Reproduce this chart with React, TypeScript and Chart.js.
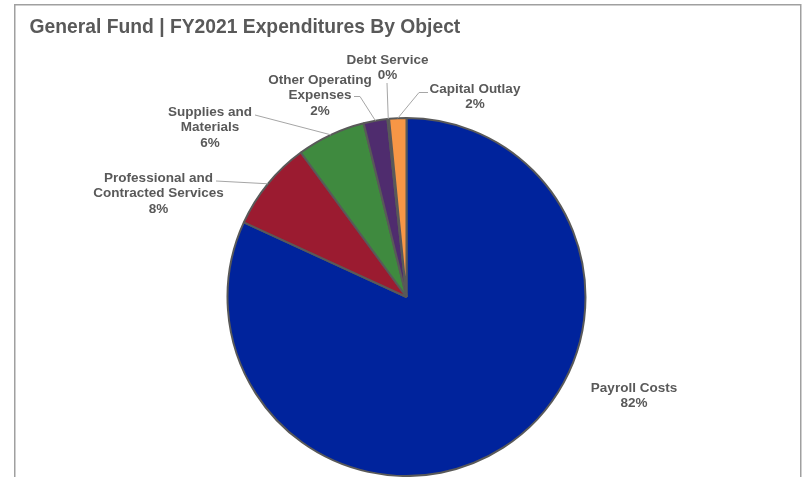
import React, { useEffect, useRef } from 'react';
import { Chart, registerables } from 'chart.js';

Chart.register(...registerables);

const TITLE = 'General Fund | FY2021 Expenditures By Object';

const categories = [
  'Payroll Costs',
  'Professional and Contracted Services',
  'Supplies and Materials',
  'Other Operating Expenses',
  'Debt Service',
  'Capital Outlay',
];

const labelLines = [
  ['Payroll Costs'],
  ['Professional and', 'Contracted Services'],
  ['Supplies and', 'Materials'],
  ['Other Operating', 'Expenses'],
  ['Debt Service'],
  ['Capital Outlay'],
];

// share of expenditures (percent)
const values = [81.85, 8.1, 6.2, 2.15, 0.15, 1.55];

const colors = ['#00239C', '#9B1B30', '#3F8A3F', '#4F2C6E', '#7F7F7F', '#F79646'];

// label layout: center x, first-line y, leader-line points (from text side, ends on the slice edge)
const labelLayout: { x: number; y: number; leader: number[][] | null }[] = [
  { x: 634, y: 388, leader: null },
  { x: 158.5, y: 178, leader: [[216, 181]] },
  { x: 210, y: 112, leader: [[255, 115]] },
  { x: 320, y: 80, leader: [[354, 96.5], [360, 96.5]] },
  { x: 387.5, y: 60, leader: [[387, 83]] },
  { x: 475, y: 89, leader: [[428, 92.5], [419, 92.5]] },
];

const FONT = '"Liberation Sans", Arial, Helvetica, sans-serif';
const TEXT_COLOR = '#595959';

const decorPlugin = {
  id: 'decor',
  beforeDraw(chart: any) {
    const ctx = chart.ctx;
    ctx.save();
    ctx.fillStyle = '#ffffff';
    ctx.fillRect(0, 0, chart.width, chart.height);
    ctx.strokeStyle = '#A0A0A0';
    ctx.lineWidth = 1.5;
    ctx.strokeRect(14.75, 4.75, 786, 520);
    ctx.fillStyle = TEXT_COLOR;
    ctx.font = `bold 19.3px ${FONT}`;
    ctx.textAlign = 'left';
    ctx.textBaseline = 'middle';
    ctx.fillText(TITLE, 29.5, 27.5);
    ctx.restore();
  },
  afterDraw(chart: any) {
    const ctx = chart.ctx;
    const meta = chart.getDatasetMeta(0);
    const data = chart.data.datasets[0].data as number[];
    const total = data.reduce((a, b) => a + b, 0);
    ctx.save();
    meta.data.forEach((arc: any, i: number) => {
      const p = arc.getProps(['x', 'y', 'startAngle', 'endAngle', 'outerRadius'], true);
      const mid = (p.startAngle + p.endAngle) / 2;
      const ex = p.x + Math.cos(mid) * p.outerRadius;
      const ey = p.y + Math.sin(mid) * p.outerRadius;
      const lay = labelLayout[i];
      if (lay.leader) {
        ctx.strokeStyle = '#A6A6A6';
        ctx.lineWidth = 1;
        ctx.beginPath();
        ctx.moveTo(lay.leader[0][0], lay.leader[0][1]);
        for (let k = 1; k < lay.leader.length; k++) ctx.lineTo(lay.leader[k][0], lay.leader[k][1]);
        ctx.lineTo(ex, ey);
        ctx.stroke();
      }
      const lines = [...labelLines[i], Math.round((data[i] / total) * 100) + '%'];
      ctx.fillStyle = TEXT_COLOR;
      ctx.font = `bold 13.5px ${FONT}`;
      ctx.textAlign = 'center';
      ctx.textBaseline = 'middle';
      lines.forEach((t, k) => ctx.fillText(t, lay.x, lay.y + k * 15.5));
    });
    ctx.restore();
  },
};

export default function App() {
  const ref = useRef<HTMLCanvasElement>(null);
  useEffect(() => {
    if (!ref.current) return;
    const chart = new Chart(ref.current, {
      type: 'pie',
      data: {
        labels: categories,
        datasets: [
          {
            data: values,
            backgroundColor: colors,
            borderColor: '#595959',
            borderWidth: 2,
          },
        ],
      },
      options: {
        responsive: false,
        maintainAspectRatio: false,
        animation: false,
        radius: 179,
        layout: { padding: { left: 7, right: 0, top: 117, bottom: 0 } },
        plugins: {
          legend: { display: false },
          tooltip: { enabled: false },
          title: { display: false },
        },
      } as any,
      plugins: [decorPlugin],
    });
    return () => chart.destroy();
  }, []);
  return (
    <div style={{ position: 'fixed', left: 0, top: 0, width: 806, height: 477 }}>
      <canvas ref={ref} width={806} height={477} style={{ width: 806, height: 477, display: 'block' }} />
    </div>
  );
}
